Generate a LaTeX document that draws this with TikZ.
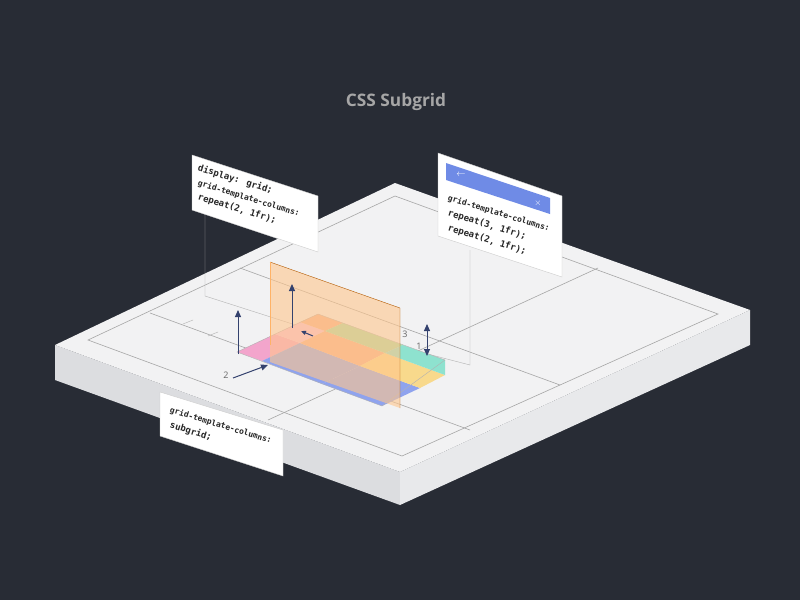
\documentclass[tikz,border=0pt]{standalone}
\usepackage{fontspec}
\setmainfont{Open Sans}
\newfontfamily\codefont{DejaVu Sans Mono}
\usetikzlibrary{arrows.meta}
\definecolor{bgdark}{HTML}{282C35}
\definecolor{slabtop}{HTML}{F2F2F3}
\definecolor{slabside}{HTML}{DCDDE0}
\definecolor{slabfront}{HTML}{E8E9EB}
\definecolor{navy}{HTML}{34426E}
\definecolor{barblue}{HTML}{6F8BE6}
\definecolor{cellpink}{HTML}{F3A5CC}
\definecolor{cellblue}{HTML}{8FA3EE}
\definecolor{cellorange}{HTML}{F5B08C}
\definecolor{cellyellow}{HTML}{F8D98C}
\definecolor{cellgreen}{HTML}{A9DCA6}
\definecolor{cellteal}{HTML}{8EE2CF}
\tikzset{
  gridline/.style={draw=gray!70, line width=0.6pt},
  panel/.style={fill=white, draw=gray!40, line width=0.4pt},
  code/.style={font=\codefont\bfseries\small, anchor=west, rotate=-17, inner sep=0pt, text=black!85},
  upar/.style={draw=navy, line width=1pt, -{Triangle[length=7pt,width=6pt]}},
  numlabel/.style={font=\small, text=gray!80!black}
}
\begin{document}
\begin{tikzpicture}[x=1pt, y=-1pt]
\fill[bgdark] (0,0) rectangle (800,600);
\useasboundingbox (0,0) rectangle (800,600);

% title
\node[font=\bfseries\LARGE, text=gray!70] (title) at (396,102) {CSS Subgrid};

% slab
\fill[slabside] (55,345) -- (400,472) -- (400,505) -- (55,380) -- cycle;
\fill[slabfront] (400,472) -- (750,310) -- (750,345) -- (400,505) -- cycle;
\fill[slabtop] (55,345) -- (395,183) -- (750,310) -- (400,472) -- cycle;
\draw[gridline] (88,340) -- (395,196) -- (718,314) -- (402,456) -- cycle;
\draw[gridline] (240,268) -- (560,385);
\draw[gridline] (598,268) -- (268,420);
\draw[gridline] (150,313) -- (470,430);

% guide lines from panels
\draw[gray!60] (205,210) -- (205,296) -- (305,328);
\draw[gray!60] (470,250) -- (470,365) -- (420,352);

% coloured subgrid cells
\fill[cellpink] (237,352) -- (275,334) -- (300,343) -- (262,361) -- cycle;
\fill[cellblue] (262,361) -- (300,343) -- (360,366) -- (322,384) -- cycle;
\fill[cellblue] (322,384) -- (360,366) -- (420,388) -- (382,406) -- cycle;
\fill[cellpink!70] (275,334) -- (300,322) -- (325,331) -- (300,343) -- cycle;
\fill[cellorange] (300,343) -- (325,331) -- (385,353) -- (360,366) -- cycle;
\fill[cellyellow] (360,366) -- (385,353) -- (445,375) -- (420,388) -- cycle;
\fill[cellorange] (300,322) -- (318,314) -- (343,323) -- (325,331) -- cycle;
\fill[cellgreen] (325,331) -- (343,323) -- (403,345) -- (385,353) -- cycle;
\fill[cellteal] (385,353) -- (403,345) -- (445,360) -- (445,375) -- cycle;
\draw[gray!60, line width=0.4pt] (237,352) -- (318,314) -- (445,360) -- (382,406) -- cycle;

% orange vertical plane
\fill[orange!45, opacity=0.6] (270,262) -- (400,308) -- (400,408) -- (270,362) -- cycle;
\draw[orange!70!black, line width=0.4pt] (270,262) -- (400,308) -- (400,408);
\draw[orange!60, line width=0.4pt] (270,262) -- (270,345);

% arrows
\coordinate (a1s) at (238,354);
\coordinate (a1e) at (238,310);
\coordinate (a2s) at (292,328);
\coordinate (a2e) at (292,284);
\coordinate (a3s) at (427,324);
\coordinate (a3e) at (427,356);
\coordinate (a4s) at (233,378);
\coordinate (a4e) at (268,365);
\coordinate (a5s) at (313,336);
\coordinate (a5e) at (301,331);
\draw[upar] (a1s) -- (a1e);
\draw[upar] (a2s) -- (a2e);
\draw[upar, {Triangle[length=7pt,width=6pt]}-{Triangle[length=7pt,width=6pt]}] (a3s) -- (a3e);
\draw[upar] (a4s) -- (a4e);
\draw[upar, -{Triangle[length=5pt,width=4pt]}] (a5s) -- (a5e);
\draw[gray!60] (183,324) -- (193,320);
\draw[gray!60] (208,336) -- (218,332);

\node[numlabel] (n2) at (226,375) {2};
\node[numlabel] (n3) at (405,334) {3};
\node[numlabel] (n1) at (419,346) {1};

% left panel
\draw[panel] (192,155) -- (318,196) -- (318,252) -- (192,210) -- cycle;
\node[code] (leftA) at (198,168) {display: grid;};
\node[code, font=\codefont\bfseries\footnotesize] (leftB) at (198,183) {grid-template-columns:};
\node[code] (leftC) at (198,197) {repeat(2, 1fr);};

% right panel
\draw[panel] (438,153) -- (562,196) -- (562,277) -- (438,236) -- cycle;
\fill[barblue] (446,163) -- (550,198) -- (550,214) -- (446,180) -- cycle;
\node[font=\small, text=white] (back) at (461,175) {$\leftarrow$};
\node[font=\small, text=white] (close) at (538,203) {$\times$};
\node[code, font=\codefont\bfseries\footnotesize] (rightA) at (448,198) {grid-template-columns:};
\node[code] (rightB) at (448,213) {repeat(3, 1fr);};
\node[code] (rightC) at (448,228) {repeat(2, 1fr);};

% bottom panel
\draw[panel] (160,392) -- (283,430) -- (283,476) -- (160,436) -- cycle;
\node[code, font=\codefont\bfseries\footnotesize] (bottomA) at (170,410) {grid-template-columns:};
\node[code] (bottomB) at (170,425) {subgrid;};
\end{tikzpicture}
\end{document}
